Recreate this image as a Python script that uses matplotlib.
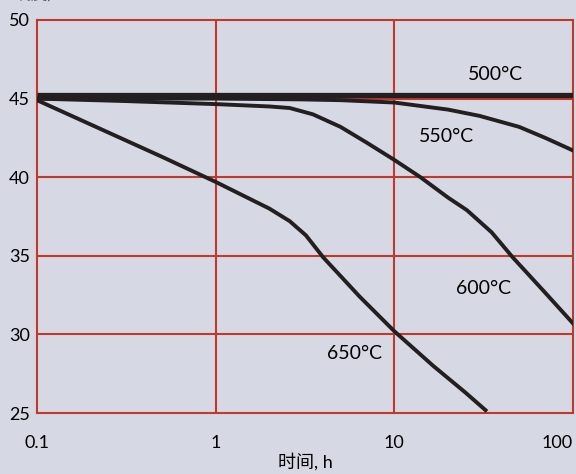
import matplotlib
matplotlib.use("Agg")
import matplotlib.pyplot as plt
from matplotlib.ticker import FixedLocator, NullLocator

plt.rcParams['font.family'] = ['Lato', 'Noto Sans CJK SC', 'DejaVu Sans']

# hardness vs. tempering time
t500 = [0.1, 1, 10, 100]
h500 = [45.2, 45.2, 45.2, 45.2]

t550 = [0.1, 1, 3, 5, 10, 20, 30, 50, 70, 100]
h550 = [45.0, 45.0, 44.95, 44.9, 44.75, 44.3, 43.9, 43.2, 42.5, 41.7]

t600 = [0.1, 0.3, 1, 2, 2.6, 3.5, 5, 7, 10, 14, 20, 25.5, 35, 46, 68, 100]
h600 = [45.0, 44.85, 44.65, 44.5, 44.4, 44.0, 43.2, 42.2, 41.1, 40.0, 38.7,
        37.9, 36.5, 34.9, 32.8, 30.7]

t650 = [0.1, 0.5, 1, 2, 2.6, 3.2, 4, 6.4, 10, 16.5, 25, 33]
h650 = [44.9, 41.3, 39.7, 38.0, 37.2, 36.3, 34.9, 32.4, 30.2, 28.0, 26.3, 25.1]

labels = ['500°C', '550°C', '600°C', '650°C']
xticks = [0.1, 1, 10, 100]
xtick_labels = ['0.1', '1', '10', '100']
yticks = [25, 30, 35, 40, 45, 50]

bg = '#d6d8e3'
red = '#c0392b'
ink = '#231f20'

fig = plt.figure(figsize=(5.76, 4.74), dpi=100, facecolor=bg)
ax = fig.add_axes([37 / 576, 61 / 474, 536 / 576, 393 / 474], facecolor=bg)

ax.set_xscale('log')
ax.set_xlim(0.1, 100)
ax.set_ylim(25, 50)

# grid
for x in [1, 10]:
    ax.axvline(x, color=red, lw=1.5, zorder=1)
for y in [30, 35, 40, 45]:
    ax.axhline(y, color=red, lw=1.5, zorder=1)
for s in ax.spines.values():
    s.set_color(red)
    s.set_linewidth(1.5)

ax.plot(t500, h500, color=ink, lw=3.8, solid_capstyle='butt', zorder=3)
ax.plot(t550, h550, color=ink, lw=2.8, zorder=3)
ax.plot(t600, h600, color=ink, lw=2.8, zorder=3)
ax.plot(t650, h650, color=ink, lw=2.8, solid_capstyle='butt', zorder=3)

# curve labels
lab_fs = 14
ax.text(36.6, 46.55, labels[0], fontsize=lab_fs, ha='center', va='center')
ax.text(19.7, 42.6, labels[1], fontsize=lab_fs, ha='center', va='center')
ax.text(31.7, 32.9, labels[2], fontsize=lab_fs, ha='center', va='center')
ax.text(6.0, 28.8, labels[3], fontsize=lab_fs, ha='center', va='center')

ax.xaxis.set_major_locator(FixedLocator(xticks))
ax.xaxis.set_minor_locator(NullLocator())
ax.set_xticklabels(xtick_labels)
ax.set_yticks(yticks)
ax.tick_params(axis='both', length=0, labelsize=13, colors='black')
ax.tick_params(axis='x', pad=16)
ax.tick_params(axis='y', pad=5)
ax.get_xticklabels()[-1].set_horizontalalignment('right')

ax.set_xlabel('时间, h', fontsize=13, labelpad=1)

# y axis title, cut off at the top of the picture as in the source
fig.text(0.09, 0.995, '硬度, HRC', fontsize=12, ha='center', va='bottom')

fig.savefig('out.png', dpi=100, facecolor=bg)
